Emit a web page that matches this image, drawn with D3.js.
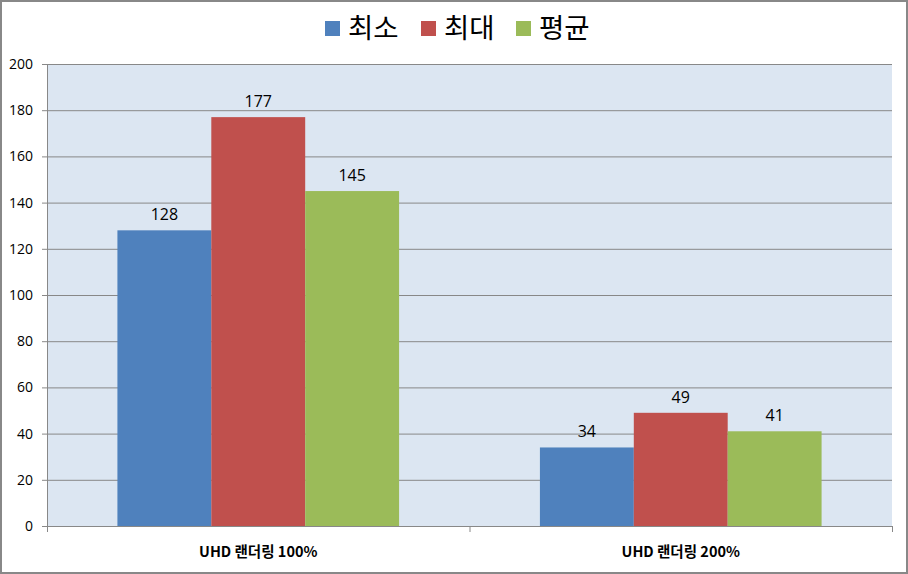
<!DOCTYPE html>
<html><head><meta charset="utf-8">
<script src="https://cdn.jsdelivr.net/npm/d3@7"></script>
<style>body{margin:0;background:#fff}svg{display:block}</style>
</head><body>
<svg id="c" width="908" height="574"></svg>
<script>
const categories = ["UHD 랜더링 100%", "UHD 랜더링 200%"];
const seriesNames = ["최소", "최대", "평균"];
const minValues = [128, 34];
const maxValues = [177, 49];
const avgValues = [145, 41];
const yTicks = [0, 20, 40, 60, 80, 100, 120, 140, 160, 180, 200];
const colors = ["#4f81bd", "#c0504d", "#9bbb59"];

const series = [minValues, maxValues, avgValues];
const svg = d3.select("#c");
const W = 908, H = 574;
const m = {l: 47, r: 16, t: 64, b: 48};
const pw = W - m.l - m.r, ph = H - m.t - m.b;

svg.append("rect").attr("x", 1).attr("y", 1).attr("width", W - 2).attr("height", H - 2)
  .attr("fill", "#fff").attr("stroke", "#888").attr("stroke-width", 2);

const g = svg.append("g").attr("transform", `translate(${m.l},${m.t})`);
const x0 = d3.scaleBand().domain(categories).range([0, pw]).paddingInner(0).paddingOuter(0);
const barW = x0.bandwidth() / (3 + 1.5);
const x1 = d3.scaleBand().domain(seriesNames).range([barW * 0.75, barW * 3.75]);
const y = d3.scaleLinear().domain([0, 200]).range([ph, 0]);

g.append("rect").attr("width", pw).attr("height", ph).attr("fill", "#dce6f2");

g.selectAll(".grid").data(yTicks.filter(t => t > 0)).join("line")
  .attr("x1", 0).attr("x2", pw).attr("y1", d => y(d) + 0.5).attr("y2", d => y(d) + 0.5)
  .attr("stroke", "#888").attr("stroke-width", 1);

const grp = g.selectAll(".grp").data(categories).join("g")
  .attr("transform", d => `translate(${x0(d)},0)`);
grp.each(function(cat, ci) {
  const gg = d3.select(this);
  seriesNames.forEach((s, si) => {
    const v = series[si][ci];
    gg.append("rect").attr("x", x1(s)).attr("width", x1.bandwidth())
      .attr("y", y(v)).attr("height", ph - y(v)).attr("fill", colors[si]);
    gg.append("text").attr("x", x1(s) + x1.bandwidth() / 2).attr("y", y(v) - 10)
      .attr("text-anchor", "middle").attr("font-family", "Open Sans, Liberation Sans, sans-serif")
      .attr("font-size", 16).attr("fill", "#000").text(v);
  });
});

// y axis
const ya = g.append("g");
ya.append("line").attr("x1", 0.5).attr("x2", 0.5).attr("y1", 0).attr("y2", ph + 6).attr("stroke", "#888");
ya.selectAll(".tk").data(yTicks).join("line")
  .attr("x1", -5).attr("x2", 0).attr("y1", d => y(d) + 0.5).attr("y2", d => y(d) + 0.5).attr("stroke", "#888");
ya.selectAll(".tl").data(yTicks).join("text")
  .attr("x", -14).attr("y", d => y(d)).attr("dy", "0.35em").attr("text-anchor", "end")
  .attr("font-family", "Open Sans, Liberation Sans, sans-serif").attr("font-size", 14).attr("fill", "#000")
  .text(d => d);

// x axis
const xa = g.append("g").attr("transform", `translate(0,${ph})`);
xa.append("line").attr("x1", 0).attr("x2", pw).attr("y1", 0.5).attr("y2", 0.5).attr("stroke", "#888");
const bounds = [0, ...categories.map(c => x0(c) + x0.bandwidth())];
xa.selectAll(".xt").data(bounds).join("line")
  .attr("x1", d => d + 0.5).attr("x2", d => d + 0.5).attr("y1", 0).attr("y2", 6).attr("stroke", "#888");
xa.selectAll(".xl").data(categories).join("text")
  .attr("x", d => x0(d) + x0.bandwidth() / 2).attr("y", 26).attr("dy", "0.35em")
  .attr("text-anchor", "middle").attr("font-family", "Noto Sans CJK KR, sans-serif")
  .attr("font-weight", "bold").attr("font-size", 14.5).attr("fill", "#000").text(d => d);

// legend
const lg = svg.append("g");
const legX = [325, 421, 516];
seriesNames.forEach((s, i) => {
  lg.append("rect").attr("x", legX[i]).attr("y", 21).attr("width", 15).attr("height", 15).attr("fill", colors[i]);
  lg.append("text").attr("x", legX[i] + 23).attr("y", 28).attr("dy", "0.38em")
    .attr("font-family", "Noto Sans CJK KR, sans-serif").attr("font-size", 27.5).attr("fill", "#000").text(s);
});
</script>
</body></html>
